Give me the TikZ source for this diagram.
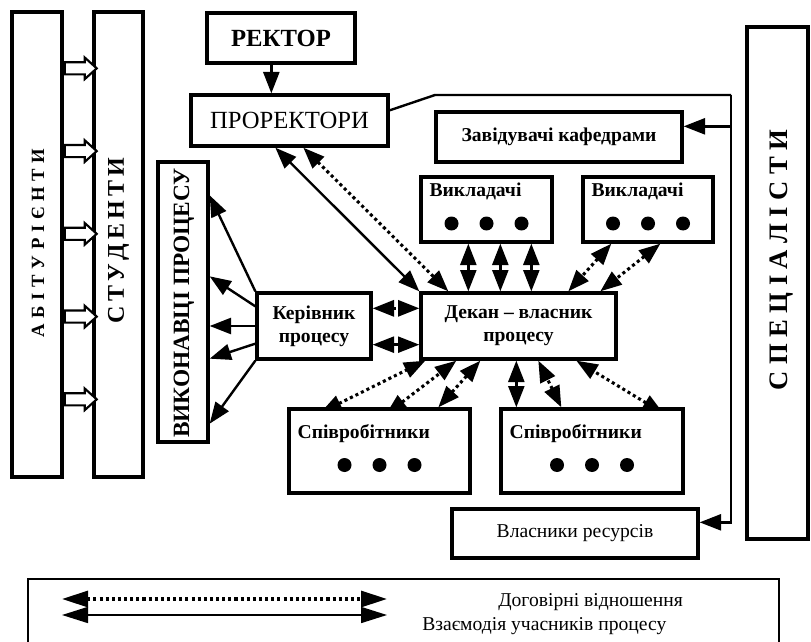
\documentclass[tikz,border=0pt]{standalone}
\usepackage{fontspec}
\setmainfont{Liberation Serif}
\usetikzlibrary{arrows.meta, positioning, calc, shapes.arrows, backgrounds}

\begin{document}
\begin{tikzpicture}[x=0.75pt, y=-0.75pt,
    >={Triangle[length=16pt, width=12pt]},
    box/.style={draw, line width=2.5pt, fill=white, inner sep=0pt, align=center},
    bold/.style={font=\fontsize{14.7}{17.5}\selectfont\bfseries},
    plain/.style={font=\fontsize{14.7}{17.5}\selectfont},
    link/.style={line width=1.8pt},
    deal/.style={line width=2.3pt, dash pattern=on 2.3pt off 2.3pt},
    into/.style={shorten <=-9pt},
    passage/.style={single arrow, draw, fill=white, line width=1.6pt, inner sep=3.75pt,
        minimum height=24pt, single arrow head extend=3.5pt, single arrow tip angle=84, anchor=tail}
]
    \useasboundingbox (0,0) rectangle (811,642);

    % Left columns
    \node[box, minimum width=37.5pt, minimum height=348.75pt] (abit) at (37,244.5) {};
    \node[box, minimum width=36.75pt, minimum height=348.75pt] (stud) at (118.5,244.5) {};
    \node[rotate=90, font=\fontsize{14}{16}\selectfont\bfseries] (abit-t) at (38,243)
        {\makebox[141.75pt][s]{А Б І Т У Р І Є Н Т И}};
    \node[rotate=90, font=\fontsize{18}{20}\selectfont\bfseries] (stud-t) at (118.5,245)
        {\makebox[117pt][s]{С Т У Д Е Н Т И}};
    \foreach \i in {0,...,4}
        \node[passage] (pass\i) at ($(abit.north east)+(0,58+82.75*\i)$) {};

    % Management
    \node[box, minimum width=111pt, minimum height=37.5pt, font=\fontsize{18.5}{20}\selectfont\bfseries]
        (rektor) at (281,38) {РЕКТОР};
    \node[box, minimum width=147.75pt, minimum height=38.25pt, font=\fontsize{18.5}{20}\selectfont]
        (prorek) at (289.5,120.5) {ПРОРЕКТОРИ};
    \node[box, bold, minimum width=184.5pt, minimum height=37.5pt] (zav) at (559,137) {Завідувачі кафедрами};

    % Process executors
    \node[box, minimum width=37.5pt, minimum height=210pt] (vykon) at (183,302) {};
    \node[rotate=90, font=\fontsize{17.5}{19}\selectfont\bfseries] (vykon-t) at (184,303) {ВИКОНАВЦІ ПРОЦЕСУ};

    % Teachers
    \node[box, minimum width=98.25pt, minimum height=48.75pt] (vykl1) at (486.5,209.5) {};
    \node[box, minimum width=97.5pt, minimum height=48.75pt] (vykl2) at (648,209.5) {};
    \node[bold, anchor=west, inner sep=0pt] (vykl1-t) at ($(vykl1.north west)+(10,16)$) {Викладачі};
    \node[bold, anchor=west, inner sep=0pt] (vykl2-t) at ($(vykl2.north west)+(10,16)$) {Викладачі};

    % Process owner and head
    \node[box, bold, minimum width=85.5pt, minimum height=49.5pt] (kerivnyk) at (314,326) {Керівник\\процесу};
    \node[box, bold, minimum width=146.25pt, minimum height=49.5pt] (dekan) at (518.5,326) {Декан – власник\\процесу};

    % Staff
    \node[box, minimum width=135.75pt, minimum height=63pt] (spiv1) at (379.5,451) {};
    \node[box, minimum width=136.5pt, minimum height=63pt] (spiv2) at (592,451) {};
    \node[bold, anchor=west, inner sep=0pt] (spiv1-t) at ($(spiv1.north west)+(10,26)$) {Співробітники};
    \node[bold, anchor=west, inner sep=0pt] (spiv2-t) at ($(spiv2.north west)+(10,26)$) {Співробітники};

    % Dots
    \foreach \n in {vykl1, vykl2, spiv1, spiv2}
        \foreach \dx in {-35,0,35}
            \fill ($(\n.center)+(\dx,14)$) circle[radius=5.25pt];

    % Resources and graduates
    \node[box, plain, minimum width=184.5pt, minimum height=36.75pt] (vlasn) at (575,533.5) {Власники ресурсів};
    \node[box, minimum width=45.75pt, minimum height=384pt] (spec) at (777.5,283) {};
    \node[rotate=90, font=\fontsize{20}{22}\selectfont\bfseries] (spec-t) at (782,260)
        {\makebox[195pt][s]{С П Е Ц І А Л І С Т И}};

    % Connectors
    \begin{scope}[on background layer]
        \coordinate (rk) at ($(rektor.south west)+(66,0)$);
        \draw[link, ->] (rk) -- (rk |- prorek.north);

        \coordinate (bend) at (435,95);
        \coordinate (corner) at (731,95);
        \coordinate (zavin) at ($(zav.north east)+(0,16)$);
        \coordinate (vlasnin) at ($(vlasn.north east)+(0,15)$);
        \draw[link] ($(prorek.north east)+(0,17)$) -- (bend) -- (corner);
        \draw[link, ->] (corner) |- (vlasnin);
        \draw[link, ->] (corner |- zavin) -- (zavin);

        \draw[link, <->] ($(prorek.south west)+(86,0)$) -- (dekan.north west);
        \draw[deal, <->] ($(prorek.south west)+(114,0)$) -- ($(dekan.north west)+(29,0)$);

        \draw[link, ->] (kerivnyk.north west) -- ($(vykon.north east)+(0,35)$);
        \draw[link, ->] ($(kerivnyk.north west)+(0,15)$) -- ($(vykon.north east)+(0,116)$);
        \draw[link, ->] (kerivnyk.west) -- (kerivnyk.west -| vykon.east);
        \draw[link, ->] ($(kerivnyk.south west)+(0,-17)$) -- ($(vykon.south east)+(0,-85)$);
        \draw[link, ->] (kerivnyk.south west) -- ($(vykon.south east)+(0,-20)$);

        \coordinate (kd1) at ($(kerivnyk.north east)+(0,17)$);
        \coordinate (kd2) at ($(kerivnyk.south east)+(0,-16)$);
        \draw[deal, <->] (kd1) -- (kd1 -| dekan.west);
        \draw[link, <->] (kd2) -- (kd2 -| dekan.west);

        \foreach \dx in {49,81,112}
            \draw[link, <->] ($(vykl1.south west)+(\dx,0)$) -- ($(dekan.north west)+(\dx,0)$);
        \draw[deal, <->] ($(vykl2.south west)+(30,0)$) -- ($(dekan.north west)+(149,0)$);
        \draw[deal, <->] ($(vykl2.south west)+(79,0)$) -- ($(dekan.north west)+(181,0)$);

        \draw[deal, <->, into] ($(spiv1.north west)+(44,0)$) -- ($(dekan.south west)+(6,0)$);
        \draw[deal, <->, into] ($(spiv1.north west)+(108,0)$) -- ($(dekan.south west)+(37,0)$);
        \draw[deal, <->] ($(spiv1.north west)+(151,0)$) -- ($(dekan.south west)+(61,0)$);
        \draw[link, <->] ($(spiv2.north west)+(17,0)$) -- ($(dekan.south west)+(97,0)$);
        \draw[deal, <->] ($(spiv2.north west)+(62,0)$) -- ($(dekan.south west)+(119,0)$);
        \draw[deal, <->, into] ($(spiv2.north west)+(154,0)$) -- ($(dekan.south west)+(157,0)$);
    \end{scope}

    % Legend
    \draw[line width=1.2pt] (28,642) |- (779,579) -- (779,642);
    \coordinate (d1) at (62,599);
    \coordinate (d2) at (387,599);
    \coordinate (s1) at (62,615);
    \coordinate (s2) at (387,615);
    \draw[deal, {Triangle[length=19.5pt,width=12pt]}-{Triangle[length=19.5pt,width=12pt]}] (d1) -- (d2);
    \draw[line width=1.2pt, {Triangle[length=19.5pt,width=12pt]}-{Triangle[length=19.5pt,width=12pt]}] (s1) -- (s2);
    \node[plain, anchor=west, inner sep=0pt] (lg-deal) at (498,602) {Договірні відношення};
    \node[plain, anchor=west, inner sep=0pt] (lg-link) at (422,626) {Взаємодія учасників процесу};
\end{tikzpicture}
\end{document}
